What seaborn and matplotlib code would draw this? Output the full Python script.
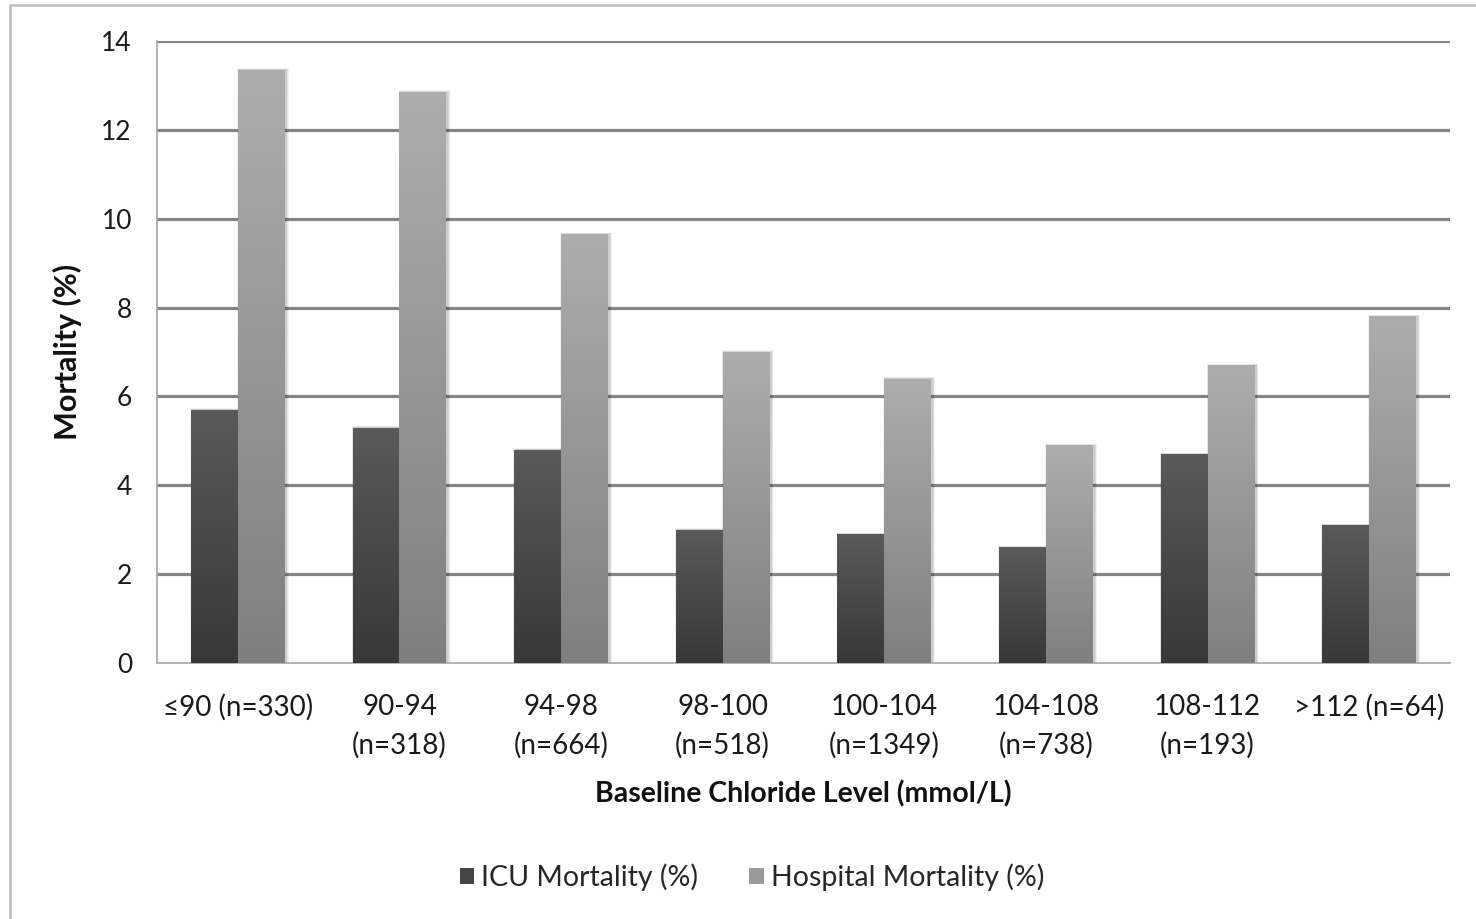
import numpy as np
import pandas as pd
import matplotlib
matplotlib.use("Agg")
import matplotlib.pyplot as plt
import seaborn as sns
from matplotlib.patches import Rectangle, Patch
from matplotlib.lines import Line2D

# --- data -------------------------------------------------------------
categories = [
    "≤90 (n=330)", "90-94\n(n=318)", "94-98\n(n=664)", "98-100\n(n=518)",
    "100-104\n(n=1349)", "104-108\n(n=738)", "108-112\n(n=193)", ">112 (n=64)",
]
icu_mortality = [5.7, 5.3, 4.8, 3.0, 2.9, 2.6, 4.7, 3.1]
hospital_mortality = [13.35, 12.85, 9.65, 7.0, 6.4, 4.9, 6.7, 7.8]
series_names = ["ICU Mortality (%)", "Hospital Mortality (%)"]
y_ticks = [0, 2, 4, 6, 8, 10, 12, 14]

df = pd.DataFrame({
    "category": categories * 2,
    "series": [series_names[0]] * len(categories) + [series_names[1]] * len(categories),
    "value": icu_mortality + hospital_mortality,
})

# --- styling ----------------------------------------------------------
sns.set_theme(style="white")
plt.rcParams["font.family"] = ["Lato", "DejaVu Sans"]

# gradient end points (top, bottom) for each series
grad = {
    series_names[0]: ("#5a5a5a", "#383838"),
    series_names[1]: ("#adadad", "#7f7f7f"),
}
legend_colors = ["#454545", "#9a9a9a"]

W, H, DPI = 1476, 919, 100
fig = plt.figure(figsize=(W / DPI, H / DPI), dpi=DPI)
ax = fig.add_axes([157 / W, 1 - 663 / H, (1450 - 157) / W, (663 - 41) / H])

sns.barplot(
    data=df, x="category", y="value", hue="series",
    hue_order=series_names, order=categories,
    palette=legend_colors, saturation=1, width=0.58,
    legend=False, ax=ax, zorder=3,
)

n = len(categories)
ax.set_xlim(-0.5, n - 0.5)
ax.set_ylim(0, 14)

# pixel size in data units, for the soft shadow
px_x = n / (1450 - 157)
px_y = 14 / (663 - 41)

for i, patch in enumerate(ax.patches):
    name = series_names[i // n]
    x0, y0 = patch.get_x(), patch.get_y()
    w, h = patch.get_width(), patch.get_height()
    # soft drop shadow
    for k in range(1, 5):
        ax.add_patch(Rectangle(
            (x0 + 1.5 * px_x - k * px_x * 0.6, y0),
            w + 2 * k * px_x * 0.6, h + k * px_y * 0.4,
            facecolor="black", edgecolor="none", alpha=0.05, zorder=2.5,
        ))
    # vertical gradient fill clipped to the bar
    top, bottom = grad[name]
    c_top = np.array(matplotlib.colors.to_rgb(top))
    c_bot = np.array(matplotlib.colors.to_rgb(bottom))
    t = np.linspace(0, 1, 256)[:, None, None]
    img = c_top * (1 - t) + c_bot * t
    img = np.repeat(img, 2, axis=1)
    im = ax.imshow(img, extent=(x0, x0 + w, y0, y0 + h), aspect="auto",
                   origin="upper", zorder=3, interpolation="bilinear")
    im.set_clip_path(patch)
    patch.set_facecolor("none")
    patch.set_edgecolor("none")

ax.set_xlim(-0.5, n - 0.5)
ax.set_ylim(0, 14)

# grid and axes
ax.set_yticks(y_ticks)
for y in y_ticks[1:]:
    ax.axhline(y, color="#858585", lw=2.3, zorder=1)
for s in ["top", "right"]:
    ax.spines[s].set_visible(False)
for s in ["left", "bottom"]:
    ax.spines[s].set_color("#a6a6a6")
    ax.spines[s].set_linewidth(1.2)

ax.set_xticks(np.arange(n))
ax.set_xticklabels(categories)
ax.set_xticks(np.arange(-0.5, n, 1), minor=True)
ax.tick_params(axis="x", which="major", length=0, pad=22, labelsize=20, labelcolor="#1a1a1a")
ax.tick_params(axis="x", which="minor", length=8, width=1.2, color="#a6a6a6", direction="out")
ax.tick_params(axis="y", length=8, width=1.2, color="#a6a6a6", direction="out",
               pad=10, labelsize=19, labelcolor="#1a1a1a")
for lab in ax.get_xticklabels():
    lab.set_linespacing(1.55)

ax.set_xlabel("Baseline Chloride Level (mmol/L)", fontsize=20.5, fontweight="bold",
              labelpad=16, color="#111111")
ax.set_ylabel("Mortality (%)", fontsize=22, fontweight="bold", labelpad=14, color="#111111")

# legend
handles = [Patch(facecolor=c, edgecolor="none") for c in legend_colors]
fig.legend(handles, series_names, loc="center", bbox_to_anchor=(752 / W, 1 - 877 / H),
           ncol=2, frameon=False, fontsize=20.5, handlelength=0.5, handleheight=0.5,
           handletextpad=0.25, columnspacing=1.8)

# outer chart border (top and left edges)
fig.add_artist(Line2D([10 / W, 10 / W, 1], [0, 1 - 5 / H, 1 - 5 / H],
                      transform=fig.transFigure, color="#bdbdbd", lw=1.8))

fig.savefig("out.png", dpi=DPI, facecolor="white")
